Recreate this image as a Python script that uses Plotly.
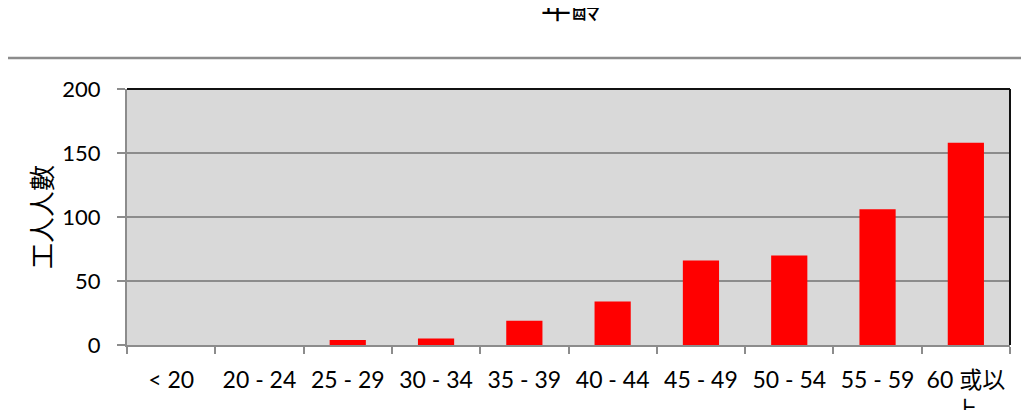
import plotly.graph_objects as go

categories = ["< 20", "20 - 24", "25 - 29", "30 - 34", "35 - 39", "40 - 44",
              "45 - 49", "50 - 54", "55 - 59", "60 或以<br>上"]
workers = [0, 0, 4, 5, 19, 34, 66, 70, 106, 158]
y_ticks = [0, 50, 100, 150, 200]

W, H = 1029, 410
OFF = 8  # page body margin
L, R, T, B = 119, 27, 81, 73
pw = W - L - R
ph = H - T - B

def px_x(px):
    return (px - OFF - L) / pw

def px_y(py):
    return (OFF + H - B - py) / ph

fig = go.Figure()
fig.add_trace(go.Bar(
    x=categories, y=workers,
    marker=dict(color="#ff0000", line=dict(width=0)),
))

fig.update_layout(
    width=W, height=H,
    margin=dict(l=L, r=R, t=T, b=B),
    paper_bgcolor="white",
    plot_bgcolor="#d9d9d9",
    bargap=0.59,
    showlegend=False,
    font=dict(family="Lato, 'Noto Sans CJK TC', sans-serif", size=22, color="#000"),
    xaxis=dict(
        type="category",
        automargin=False,
        showgrid=False,
        showline=True, linecolor="#8c8c8c", linewidth=2,
        ticks="outside", tickson="boundaries", ticklen=7, tickcolor="#8c8c8c", tickwidth=2,
        ticklabelstandoff=13,
        tickangle=0,
        tickfont=dict(size=23, color="#000"),
        fixedrange=True,
    ),
    yaxis=dict(
        range=[0, 200],
        automargin=False,
        tickvals=y_ticks,
        showgrid=True, gridcolor="#8c8c8c", gridwidth=2,
        showline=True, linecolor="#8c8c8c", linewidth=2,
        ticks="outside", ticklen=8, tickcolor="#8c8c8c", tickwidth=2,
        ticklabelstandoff=12,
        tickfont=dict(size=22, color="#000"),
        zeroline=False,
        fixedrange=True,
    ),
    shapes=[
        dict(type="line", xref="paper", yref="paper",
             x0=px_x(0), x1=px_x(W + 20), y0=px_y(58), y1=px_y(58),
             line=dict(color="#8c8c8c", width=2.5)),
        dict(type="line", xref="paper", yref="paper",
             x0=0, x1=1, y0=1, y1=1, line=dict(color="#111", width=2)),
        dict(type="line", xref="paper", yref="paper",
             x0=1, x1=1, y0=0, y1=1, line=dict(color="#111", width=2)),
    ],
    annotations=[
        dict(text="年齡", xref="paper", yref="paper",
             x=px_x(571), y=px_y(5), xanchor="center", yanchor="middle",
             showarrow=False,
             font=dict(family="'Noto Sans CJK TC', sans-serif", size=30, color="#000")),
        dict(text="工人人數", xref="paper", yref="paper",
             x=px_x(40), y=0.5, xanchor="center", yanchor="middle",
             textangle=-90, showarrow=False,
             font=dict(family="'Noto Sans CJK TC', sans-serif", size=26, color="#000")),
    ],
)

fig.write_html("out.html")
